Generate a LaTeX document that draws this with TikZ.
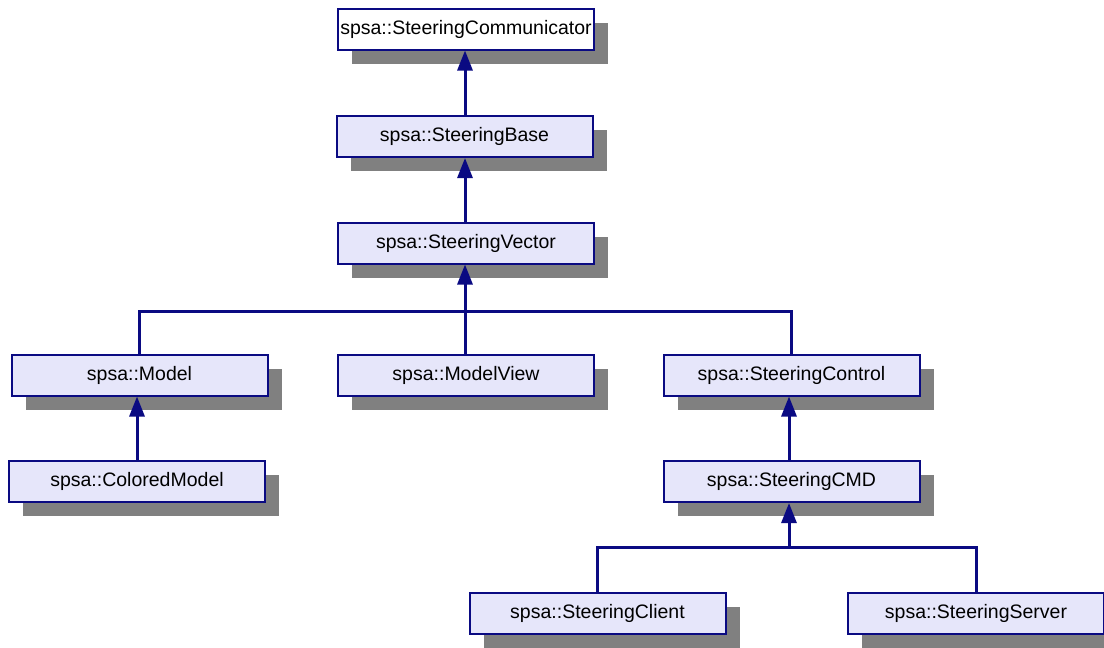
\documentclass[tikz,border=0pt]{standalone}
\usepackage{fontspec}
\setmainfont{Liberation Sans}
\usetikzlibrary{arrows.meta,shadows,positioning}
\definecolor{edgeblue}{RGB}{10,10,130}
\definecolor{boxfill}{RGB}{230,230,250}
\definecolor{shadowgray}{RGB}{128,128,128}

\begin{document}
\begin{tikzpicture}[x=1pt,y=-1pt]

\tikzset{cls/.style={
    draw=edgeblue, line width=2pt, fill=boxfill,
    minimum width=256pt, minimum height=41pt,
    inner sep=0pt, font=\fontsize{19.5}{22}\selectfont,
    drop shadow={shadow xshift=14pt, shadow yshift=-14pt,
      fill=shadowgray, opacity=1}
  },
  link/.style={draw=edgeblue, line width=3pt},
  inherit/.style={link, -{Triangle[width=15pt,length=20pt]}}
}

\useasboundingbox (0,0) rectangle (1104,648);

\node[cls, fill=white] (comm) at (466,29) {spsa::SteeringCommunicator};
\node[cls] (base) at (464.5,136.5) {spsa::SteeringBase};
\node[cls] (vector) at (466,243) {spsa::SteeringVector};
\node[cls] (model) at (139.5,375) {spsa::Model};
\node[cls] (modelview) at (466,375) {spsa::ModelView};
\node[cls] (control) at (791.5,375) {spsa::SteeringControl};
\node[cls] (colored) at (137,481.5) {spsa::ColoredModel};
\node[cls] (cmd) at (791.5,481.5) {spsa::SteeringCMD};
\node[cls] (client) at (597.5,613.5) {spsa::SteeringClient};
\node[cls] (server) at (976,613.5) {spsa::SteeringServer};

\coordinate (vbus) at (465,311);
\coordinate (cbus) at (789,547);

% inheritance lines
\draw[inherit] (base.north -| vbus) -- (comm.south -| vbus);
\draw[inherit] (vector.north -| vbus) -- (base.south -| vbus);
\draw[link] (model.north) |- (vbus) -| (control.north);
\draw[inherit] (modelview.north -| vbus) -- (vector.south -| vbus);
\draw[inherit] (colored.north) -- (colored.north |- model.south);
\draw[inherit] (cmd.north -| cbus) -- (control.south -| cbus);
\draw[link] (client.north) |- (cbus) -| (server.north);
\draw[inherit] (cbus) -- (cmd.south -| cbus);

\end{tikzpicture}
\end{document}
